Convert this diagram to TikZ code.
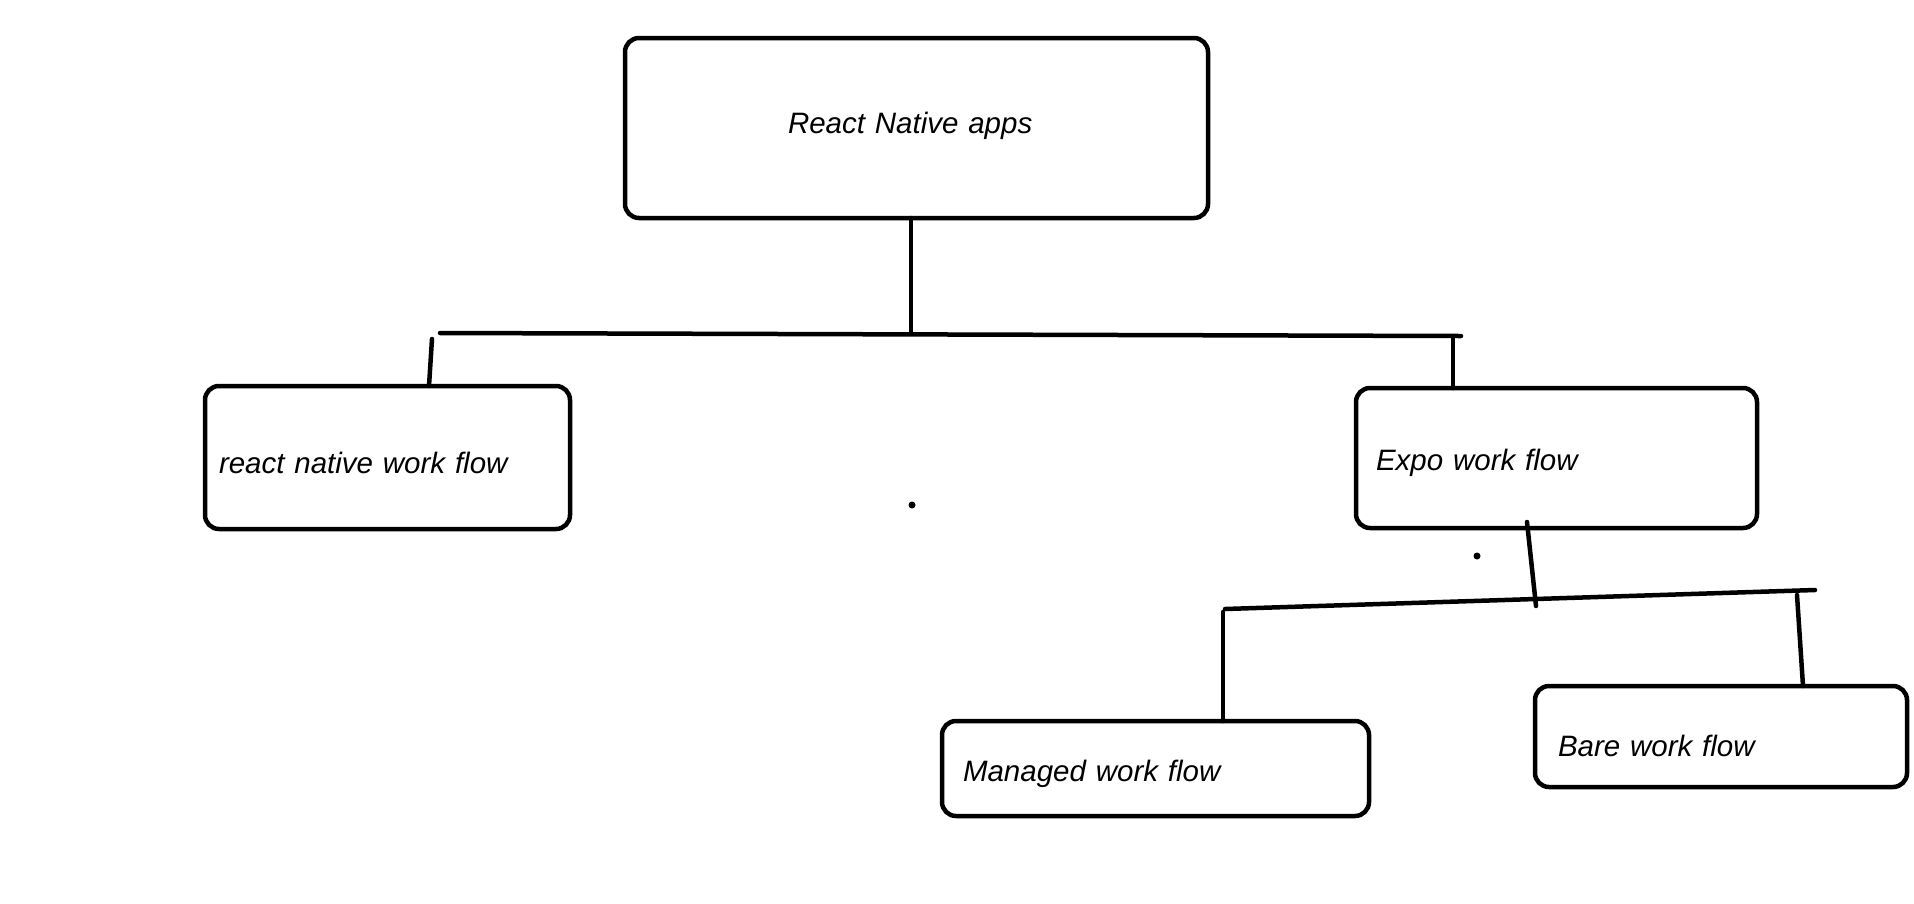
\documentclass[tikz,border=0pt]{standalone}
\usepackage{fontspec}
\setmainfont{Liberation Sans}
\usepackage{tikz}

\tikzset{
  box/.style={draw, line width=4.5pt, rounded corners=14pt, anchor=north west,
    outer sep=0pt, inner ysep=0pt, align=left, text depth=0pt,
    font=\fontsize{29.5pt}{34pt}\selectfont\itshape},
  link/.style={line width=4.5pt, line cap=round}
}

\begin{document}
\begin{tikzpicture}[x=1pt, y=-1pt]
      \useasboundingbox (0,0) rectangle (1914,903);

      \node[box, minimum width=583pt, minimum height=180pt, inner xsep=163pt, text width=257pt, text height=10pt] (apps) at (625,38) {React Native apps};
      \node[box, minimum width=365pt, minimum height=143pt, inner xsep=14pt, text width=337pt, text height=31pt] (rnflow) at (205,386) {react native work flow};
      \node[box, minimum width=401pt, minimum height=140pt, inner xsep=20pt, text width=361pt, text height=25.4pt] (expo) at (1356,388) {Expo work flow};
      \node[box, minimum width=427pt, minimum height=95pt, inner xsep=21pt, text width=385pt, text height=25pt] (managed) at (942,721) {Managed work flow};
      \node[box, minimum width=372pt, minimum height=101pt, inner xsep=23pt, text width=326pt, text height=40.4pt] (bare) at (1535,686) {Bare work flow};

      \coordinate (appsstem) at (911,333);
      \coordinate (barleft) at (440,333);
      \coordinate (barright) at (1461,336);
      \coordinate (rndrop) at (432,339);
      \coordinate (expodrop) at (1453,337);
      \draw[link] (apps.south -| appsstem) -- (appsstem);
      \draw[link] (barleft) -- (barright);
      \draw[link] (rndrop) -- ([xshift=-3pt]rnflow.north -| rndrop);
      \draw[link] (expodrop) -- (expo.north -| expodrop);

      \coordinate (expostem) at (1527,522);
      \coordinate (expojoin) at (1536,606);
      \coordinate (subleft) at (1225,609);
      \coordinate (subright) at (1815,590);
      \coordinate (manageddrop) at (1223,612);
      \coordinate (baredrop) at (1797,595);
      \draw[link] ([yshift=6pt]expo.south -| expostem) -- (expojoin);
      \draw[link] (subleft) -- (subright);
      \draw[link] (manageddrop) -- (managed.north -| manageddrop);
      \draw[link] (baredrop) -- ([xshift=6pt]bare.north -| baredrop);

      \fill (912,505) circle (3.5pt);
      \fill (1477,556) circle (3.5pt);
    \end{tikzpicture}
\end{document}
